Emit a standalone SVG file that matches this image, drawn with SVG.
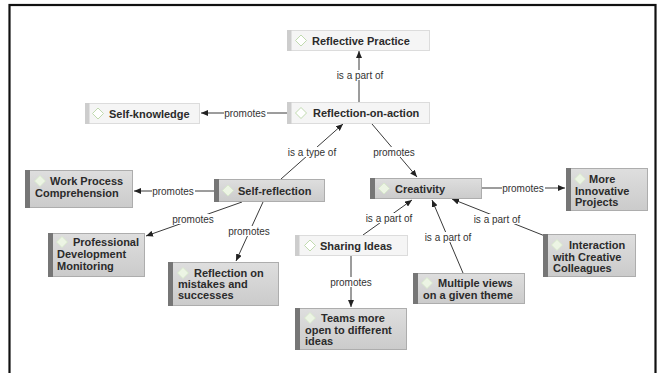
<svg xmlns="http://www.w3.org/2000/svg" width="659" height="373" viewBox="0 0 659 373">
<style>
.light .b{fill:#f5f5f5;stroke:#dcdcdc;stroke-width:1}
.light .bar{fill:#cdcdcd}
.light .ic{fill:#fff;stroke:#b9d6a6;stroke-width:0.9}
.dark .b{fill:url(#dg);stroke:#adadad;stroke-width:1}
.dark .bar{fill:#767676}
.dark .ic{fill:#ecf4e4;stroke:#d6e8c8;stroke-width:0.8}
.n{font-family:"Liberation Sans",Arial,sans-serif;font-weight:bold;font-size:11px;fill:#2b2b2b}
.l{font-family:"Liberation Sans",Arial,sans-serif;font-size:10px;fill:#333;text-anchor:middle}
.lb{fill:#fff}
.c line{stroke:#3a3a3a;stroke-width:1;marker-end:url(#ah)}
</style>
<defs>
<linearGradient id="dg" x1="0" y1="0" x2="0" y2="1">
<stop offset="0" stop-color="#dedede"/>
<stop offset="1" stop-color="#cbcbcb"/>
</linearGradient>
<marker id="ah" markerUnits="userSpaceOnUse" markerWidth="8" markerHeight="6" refX="7" refY="3" orient="auto">
<path d="M0,0 L7,3 L0,6 z" fill="#222"/>
</marker>
<polygon id="dia" points="0,-5.5 5.5,0 0,5.5 -5.5,0"/>
</defs>
<rect width="659" height="373" fill="#fff"/>
<rect x="9.5" y="5" width="646" height="400" fill="none" stroke="#111" stroke-width="2.2"/>

<g id="connectors" class="c">
<line x1="359" y1="102" x2="359" y2="51"/>
<line x1="287" y1="113" x2="201" y2="113"/>
<line x1="281" y1="179" x2="343" y2="124"/>
<line x1="372" y1="124" x2="417" y2="177"/>
<line x1="482" y1="188" x2="565" y2="188"/>
<line x1="214" y1="191" x2="134" y2="191"/>
<line x1="242" y1="202" x2="146" y2="236"/>
<line x1="263" y1="202" x2="236" y2="261"/>
<line x1="363" y1="235" x2="412" y2="200"/>
<line x1="463" y1="273" x2="432" y2="200"/>
<line x1="545" y1="236" x2="452" y2="199"/>
<line x1="351" y1="255" x2="351" y2="307"/>
<g id="labels">
<rect class="lb" x="335" y="70" width="50" height="10"/><text class="l" x="360" y="78.5">is a part of</text>
<rect class="lb" x="224" y="108" width="43" height="10"/><text class="l" x="245" y="116.5">promotes</text>
<rect class="lb" x="287" y="147" width="51" height="10"/><text class="l" x="312" y="155.5">is a type of</text>
<rect class="lb" x="373" y="147" width="43" height="10"/><text class="l" x="394" y="155.5">promotes</text>
<rect class="lb" x="502" y="183" width="43" height="10"/><text class="l" x="523" y="191.5">promotes</text>
<rect class="lb" x="152" y="186" width="43" height="10"/><text class="l" x="173" y="194.5">promotes</text>
<rect class="lb" x="172" y="214" width="43" height="10"/><text class="l" x="193" y="222.5">promotes</text>
<rect class="lb" x="228" y="226" width="43" height="10"/><text class="l" x="249" y="234.5">promotes</text>
<rect class="lb" x="364" y="213" width="50" height="10"/><text class="l" x="389" y="221.5">is a part of</text>
<rect class="lb" x="423" y="232" width="50" height="10"/><text class="l" x="448" y="240.5">is a part of</text>
<rect class="lb" x="472" y="214" width="50" height="10"/><text class="l" x="497" y="222.5">is a part of</text>
<rect class="lb" x="330" y="277" width="43" height="10"/><text class="l" x="351" y="285.5">promotes</text>
</g>
</g>

<g id="n-reflective-practice" class="light">
<rect class="b" x="287.5" y="30.5" width="142" height="20"/><rect class="bar" x="287" y="30" width="4.5" height="21"/>
<use href="#dia" class="ic" x="301" y="40.5"/>
<text class="n" x="312" y="44.5">Reflective Practice</text>
</g>
<g id="n-reflection-on-action" class="light">
<rect class="b" x="287.5" y="102.5" width="142" height="21"/><rect class="bar" x="287" y="102" width="4.5" height="22"/>
<use href="#dia" class="ic" x="301" y="113"/>
<text class="n" x="313" y="117">Reflection-on-action</text>
</g>
<g id="n-self-knowledge" class="light">
<rect class="b" x="85.5" y="103.5" width="114" height="20"/><rect class="bar" x="85" y="103" width="4.5" height="21"/>
<use href="#dia" class="ic" x="98" y="113.5"/>
<text class="n" x="109" y="117.5">Self-knowledge</text>
</g>
<g id="n-sharing-ideas" class="light">
<rect class="b" x="295.5" y="235.5" width="112" height="20"/><rect class="bar" x="295" y="235" width="4.5" height="21"/>
<use href="#dia" class="ic" x="310" y="245.5"/>
<text class="n" x="320" y="249.5">Sharing Ideas</text>
</g>

<g id="n-self-reflection" class="dark">
<rect class="b" x="214.5" y="179.5" width="110" height="22"/><rect class="bar" x="214" y="179" width="5" height="23"/>
<use href="#dia" class="ic" x="228" y="190.5"/>
<text class="n" x="238" y="194.5">Self-reflection</text>
</g>
<g id="n-creativity" class="dark">
<rect class="b" x="370.5" y="178.5" width="111" height="20"/><rect class="bar" x="370" y="178" width="5" height="21"/>
<use href="#dia" class="ic" x="384" y="188.5"/>
<text class="n" x="395" y="192.5">Creativity</text>
</g>
<g id="n-work-process" class="dark">
<rect class="b" x="25.5" y="170.5" width="107" height="37"/><rect class="bar" x="25" y="170" width="5" height="38"/>
<use href="#dia" class="ic" x="40" y="181"/>
<text class="n" x="50" y="185">Work Process</text>
<text class="n" x="35" y="196.5">Comprehension</text>
</g>
<g id="n-more-innovative" class="dark">
<rect class="b" x="566.5" y="168.5" width="81" height="42"/><rect class="bar" x="566" y="168" width="5" height="43"/>
<use href="#dia" class="ic" x="580" y="179"/>
<text class="n" x="589" y="183">More</text>
<text class="n" x="575" y="195">Innovative</text>
<text class="n" x="575" y="206">Projects</text>
</g>
<g id="n-professional" class="dark">
<rect class="b" x="48.5" y="233.5" width="96" height="43"/><rect class="bar" x="48" y="233" width="5" height="44"/>
<use href="#dia" class="ic" x="62" y="242"/>
<text class="n" x="73" y="246">Professional</text>
<text class="n" x="57" y="258">Development</text>
<text class="n" x="57" y="270">Monitoring</text>
</g>
<g id="n-reflection-mistakes" class="dark">
<rect class="b" x="168.5" y="262.5" width="110" height="43"/><rect class="bar" x="168" y="262" width="5" height="44"/>
<use href="#dia" class="ic" x="183" y="273"/>
<text class="n" x="194" y="277">Reflection on</text>
<text class="n" x="178" y="288">mistakes and</text>
<text class="n" x="178" y="299">successes</text>
</g>
<g id="n-teams" class="dark">
<rect class="b" x="295.5" y="308.5" width="111" height="41"/><rect class="bar" x="295" y="308" width="5" height="42"/>
<use href="#dia" class="ic" x="310" y="318"/>
<text class="n" x="321" y="322">Teams more</text>
<text class="n" x="305" y="334">open to different</text>
<text class="n" x="305" y="345">ideas</text>
</g>
<g id="n-multiple-views" class="dark">
<rect class="b" x="413.5" y="273.5" width="111" height="30"/><rect class="bar" x="413" y="273" width="5" height="31"/>
<use href="#dia" class="ic" x="427" y="283"/>
<text class="n" x="438" y="287">Multiple views</text>
<text class="n" x="423" y="299">on a given theme</text>
</g>
<g id="n-interaction" class="dark">
<rect class="b" x="543.5" y="234.5" width="92" height="42"/><rect class="bar" x="543" y="234" width="5" height="43"/>
<use href="#dia" class="ic" x="557" y="245"/>
<text class="n" x="569" y="249">Interaction</text>
<text class="n" x="553" y="261">with Creative</text>
<text class="n" x="553" y="272">Colleagues</text>
</g>
</svg>
